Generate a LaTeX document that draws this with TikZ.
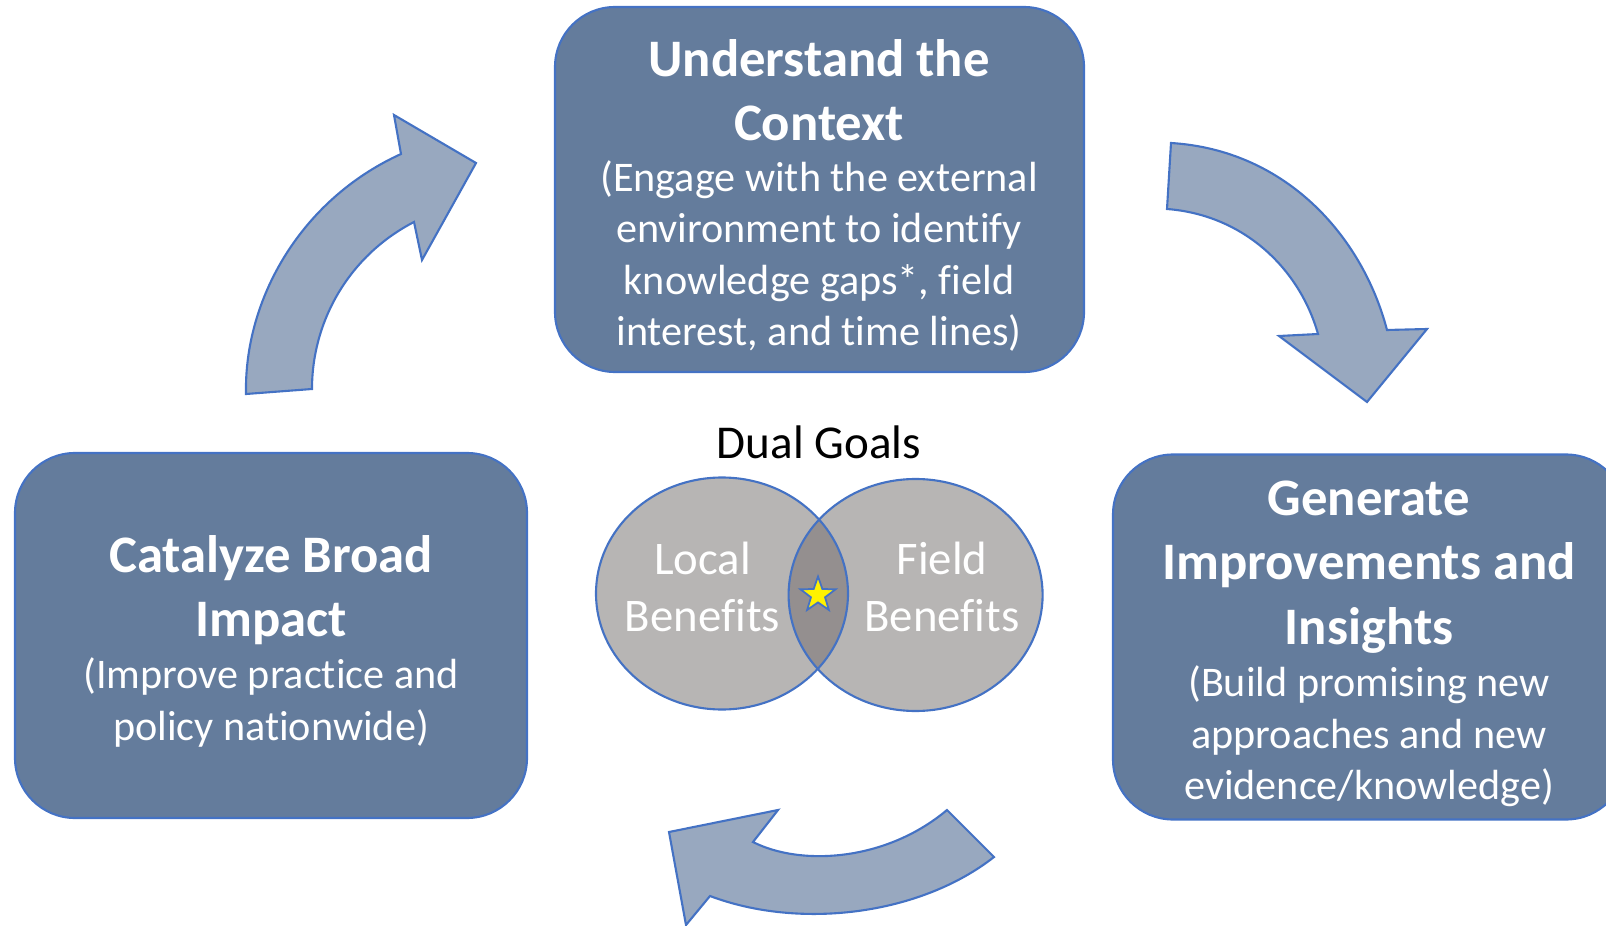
\documentclass[tikz,border=0pt]{standalone}
\usepackage{fontspec}
\setmainfont{Carlito}[Ligatures=CommonOff]
\usetikzlibrary{shapes.geometric}

\definecolor{boxblue}{HTML}{647C9C}
\definecolor{arrowblue}{HTML}{98A8BF}
\definecolor{edgeblue}{HTML}{4472C4}
\definecolor{venngray}{HTML}{B7B5B4}
\definecolor{overlapgray}{HTML}{948F8F}

\begin{document}
\begin{tikzpicture}[
    x=0.1mm, y=-0.1mm,
    stage/.style={draw=edgeblue, line width=0.6pt, fill=boxblue, rounded corners=6mm, minimum height=36.5mm, inner sep=0pt},
    stagetitle/.style={text=white, align=center, inner sep=0pt, font=\fontsize{15}{18.3}\selectfont\bfseries},
    stagenote/.style={text=white, align=center, inner sep=0pt, font=\fontsize{12}{14.6}\selectfont},
    bentarrow/.style={draw=edgeblue, line width=0.6pt, fill=arrowblue, line join=miter},
    venntext/.style={text=white, align=center, inner sep=0pt, font=\fontsize{13.3}{16}\selectfont}
]
    \useasboundingbox (0,0) rectangle (1606,926);
    \clip (0,0) rectangle (1606,926);

    % the three stages
    \node[stage, minimum width=52.9mm] (ctxbox) at (819.5,189.5) {};
    \node[stage, minimum width=51.2mm] (catbox) at (271,635.5) {};
    \node[stage, minimum width=51.3mm] (genbox) at (1369.5,637) {};

    \node[stagetitle] (ctxtitle) at (819,90) {Understand the\\Context};
    \node[stagenote] (ctxnote) at (819,256) {(Engage with the external\\environment to identify\\knowledge gaps*, field\\interest, and time lines)};
    \node[stagetitle] (cattitle) at (271,590) {Catalyze Broad\\Impact};
    \node[stagenote] (catnote) at (271,702.5) {(Improve practice and\\policy nationwide)};
    \node[stagetitle] (gentitle) at (1369,567) {Generate\\Improvements and\\Insights};
    \node[stagenote] (gennote) at (1369,736.5) {(Build promising new\\approaches and new\\evidence/knowledge)};

    % curved block arrows
    \filldraw[bentarrow] (246,394) -- (312,389) .. controls (312,320) and (350,255) .. (414,222)
        -- (422,260) -- (476,163) -- (394,115) -- (401,154) .. controls (300,200) and (244,300) .. (246,394) -- cycle;
    \filldraw[bentarrow] (1171,143) .. controls (1285,150) and (1362,235) .. (1387,330)
        -- (1427,329) -- (1367,402) -- (1279,336) -- (1318,334) .. controls (1300,270) and (1245,215) .. (1167,209) -- cycle;
    \filldraw[bentarrow] (947,810) -- (994,857) .. controls (920,915) and (800,930) .. (710,896)
        -- (686,925) -- (669,832) -- (778,810) -- (753,842) .. controls (800,866) and (885,862) .. (947,810) -- cycle;

    % dual goals
    \node[font=\fontsize{13.4}{16}\selectfont, inner sep=0pt] (dualgoals) at (819,442) {Dual Goals};
    \fill[venngray] (722,593.5) ellipse [x radius=126, y radius=116];
    \fill[venngray] (915.6,595) ellipse [x radius=127, y radius=116];
    \begin{scope}
        \clip (722,593.5) ellipse [x radius=126, y radius=116];
        \fill[overlapgray] (915.6,595) ellipse [x radius=127, y radius=116];
    \end{scope}
    \draw[edgeblue, line width=0.6pt] (722,593.5) ellipse [x radius=126, y radius=116];
    \draw[edgeblue, line width=0.6pt] (915.6,595) ellipse [x radius=127, y radius=116];
    \node[venntext] (localtxt) at (702.5,587) {Local\\Benefits};
    \node[venntext] (fieldtxt) at (942,587) {Field\\Benefits};
    \node[star, star points=5, star point ratio=2.5, fill=yellow, draw=edgeblue, line width=0.5pt,
        minimum size=3.7mm, inner sep=0pt] (goalstar) at (818,595) {};
\end{tikzpicture}
\end{document}
